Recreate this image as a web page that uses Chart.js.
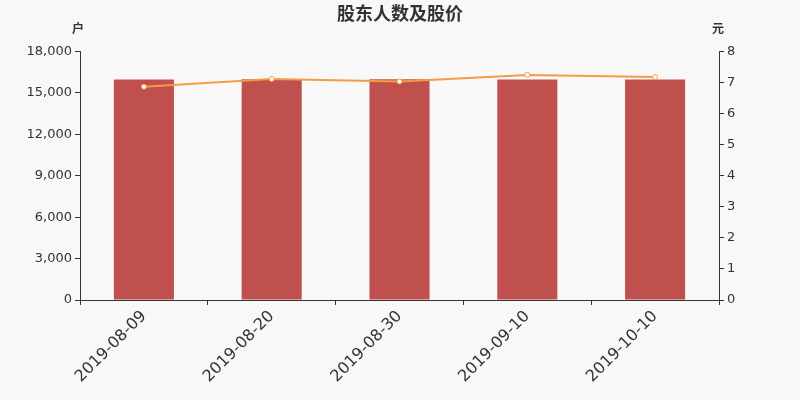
<!DOCTYPE html>
<html>
<head>
<meta charset="utf-8">
<script src="https://cdn.jsdelivr.net/npm/chart.js@4/dist/chart.umd.min.js"></script>
<style>
  body { margin: 0; background: #f8f8f8; }
</style>
</head>
<body>
<canvas id="holders" width="800" height="400"></canvas>
<script>
var dates = ['2019-08-09', '2019-08-20', '2019-08-30', '2019-09-10', '2019-10-10'];
var holders = [15980, 15990, 15990, 15980, 15980];
var prices = [6.87, 7.12, 7.04, 7.25, 7.18];

var axisNames = {
  id: 'axisNames',
  afterDraw: function(chart) {
    var c = chart.ctx;
    var y = chart.scales.y, y1 = chart.scales.y1;
    c.save();
    c.fillStyle = '#333';
    c.font = 'bold 12px "Noto Sans CJK SC"';
    c.textAlign = 'center';
    c.textBaseline = 'middle';
    c.fillText('户', y.right - 2, 28);
    c.fillText('元', y1.left - 1, 28);
    c.restore();
  }
};

var bg = {
  id: 'bg',
  beforeDraw: function(chart) {
    var c = chart.ctx;
    c.save();
    c.fillStyle = '#f8f8f8';
    c.fillRect(0, 0, chart.width, chart.height);
    c.restore();
  }
};

var canvas = document.getElementById('holders');
var ctx = canvas.getContext('2d');
new Chart(ctx, {
  type: 'bar',
  data: {
    labels: dates,
    datasets: [{
      type: 'line',
      label: '股价',
      data: prices,
      yAxisID: 'y1',
      borderColor: '#f59a45',
      borderWidth: 2,
      pointRadius: 2.5,
      pointBackgroundColor: '#ffffff',
      pointBorderColor: '#f59a45',
      pointBorderWidth: 1,
      tension: 0,
      order: 0
    }, {
      label: '股东人数',
      data: holders,
      yAxisID: 'y',
      backgroundColor: '#c0504d',
      barPercentage: 0.47,
      categoryPercentage: 1,
      order: 1
    }]
  },
  options: {
    responsive: false,
    animation: false,
    plugins: {
      legend: { display: false },
      tooltip: { enabled: false },
      title: {
        display: true,
        text: '股东人数及股价',
        color: '#333',
        font: { family: '"Noto Sans CJK SC"', size: 18, weight: 'bold' },
        padding: { top: 2, bottom: 28 }
      }
    },
    layout: { padding: { left: 0, right: 0, bottom: 0 } },
    scales: {
      x: {
        offset: true,
        grid: { offset: true, drawOnChartArea: false, drawTicks: true, tickLength: 5, color: '#333' },
        border: { display: true, color: '#333' },
        ticks: {
          color: '#333',
          font: { family: 'DejaVu Sans', size: 16 },
          maxRotation: 45,
          minRotation: 45,
          padding: 2
        },
        afterFit: function(s) { s.height = 100; }
      },
      y: {
        position: 'left',
        min: 0,
        max: 18000,
        grid: { drawOnChartArea: false, drawTicks: true, tickLength: 5, color: '#333' },
        border: { display: true, color: '#333' },
        ticks: {
          stepSize: 3000,
          color: '#333',
          font: { family: 'DejaVu Sans', size: 13 },
          padding: 3,
          callback: function(v) { return v.toLocaleString('en-US'); }
        },
        afterFit: function(s) { s.width = 80; }
      },
      y1: {
        position: 'right',
        min: 0,
        max: 8,
        grid: { drawOnChartArea: false, drawTicks: true, tickLength: 5, color: '#333' },
        border: { display: true, color: '#333' },
        ticks: {
          stepSize: 1,
          color: '#333',
          font: { family: 'DejaVu Sans', size: 13 },
          padding: 3
        },
        afterFit: function(s) { s.width = 81; }
      }
    }
  },
  plugins: [bg, axisNames]
});
</script>
</body>
</html>
